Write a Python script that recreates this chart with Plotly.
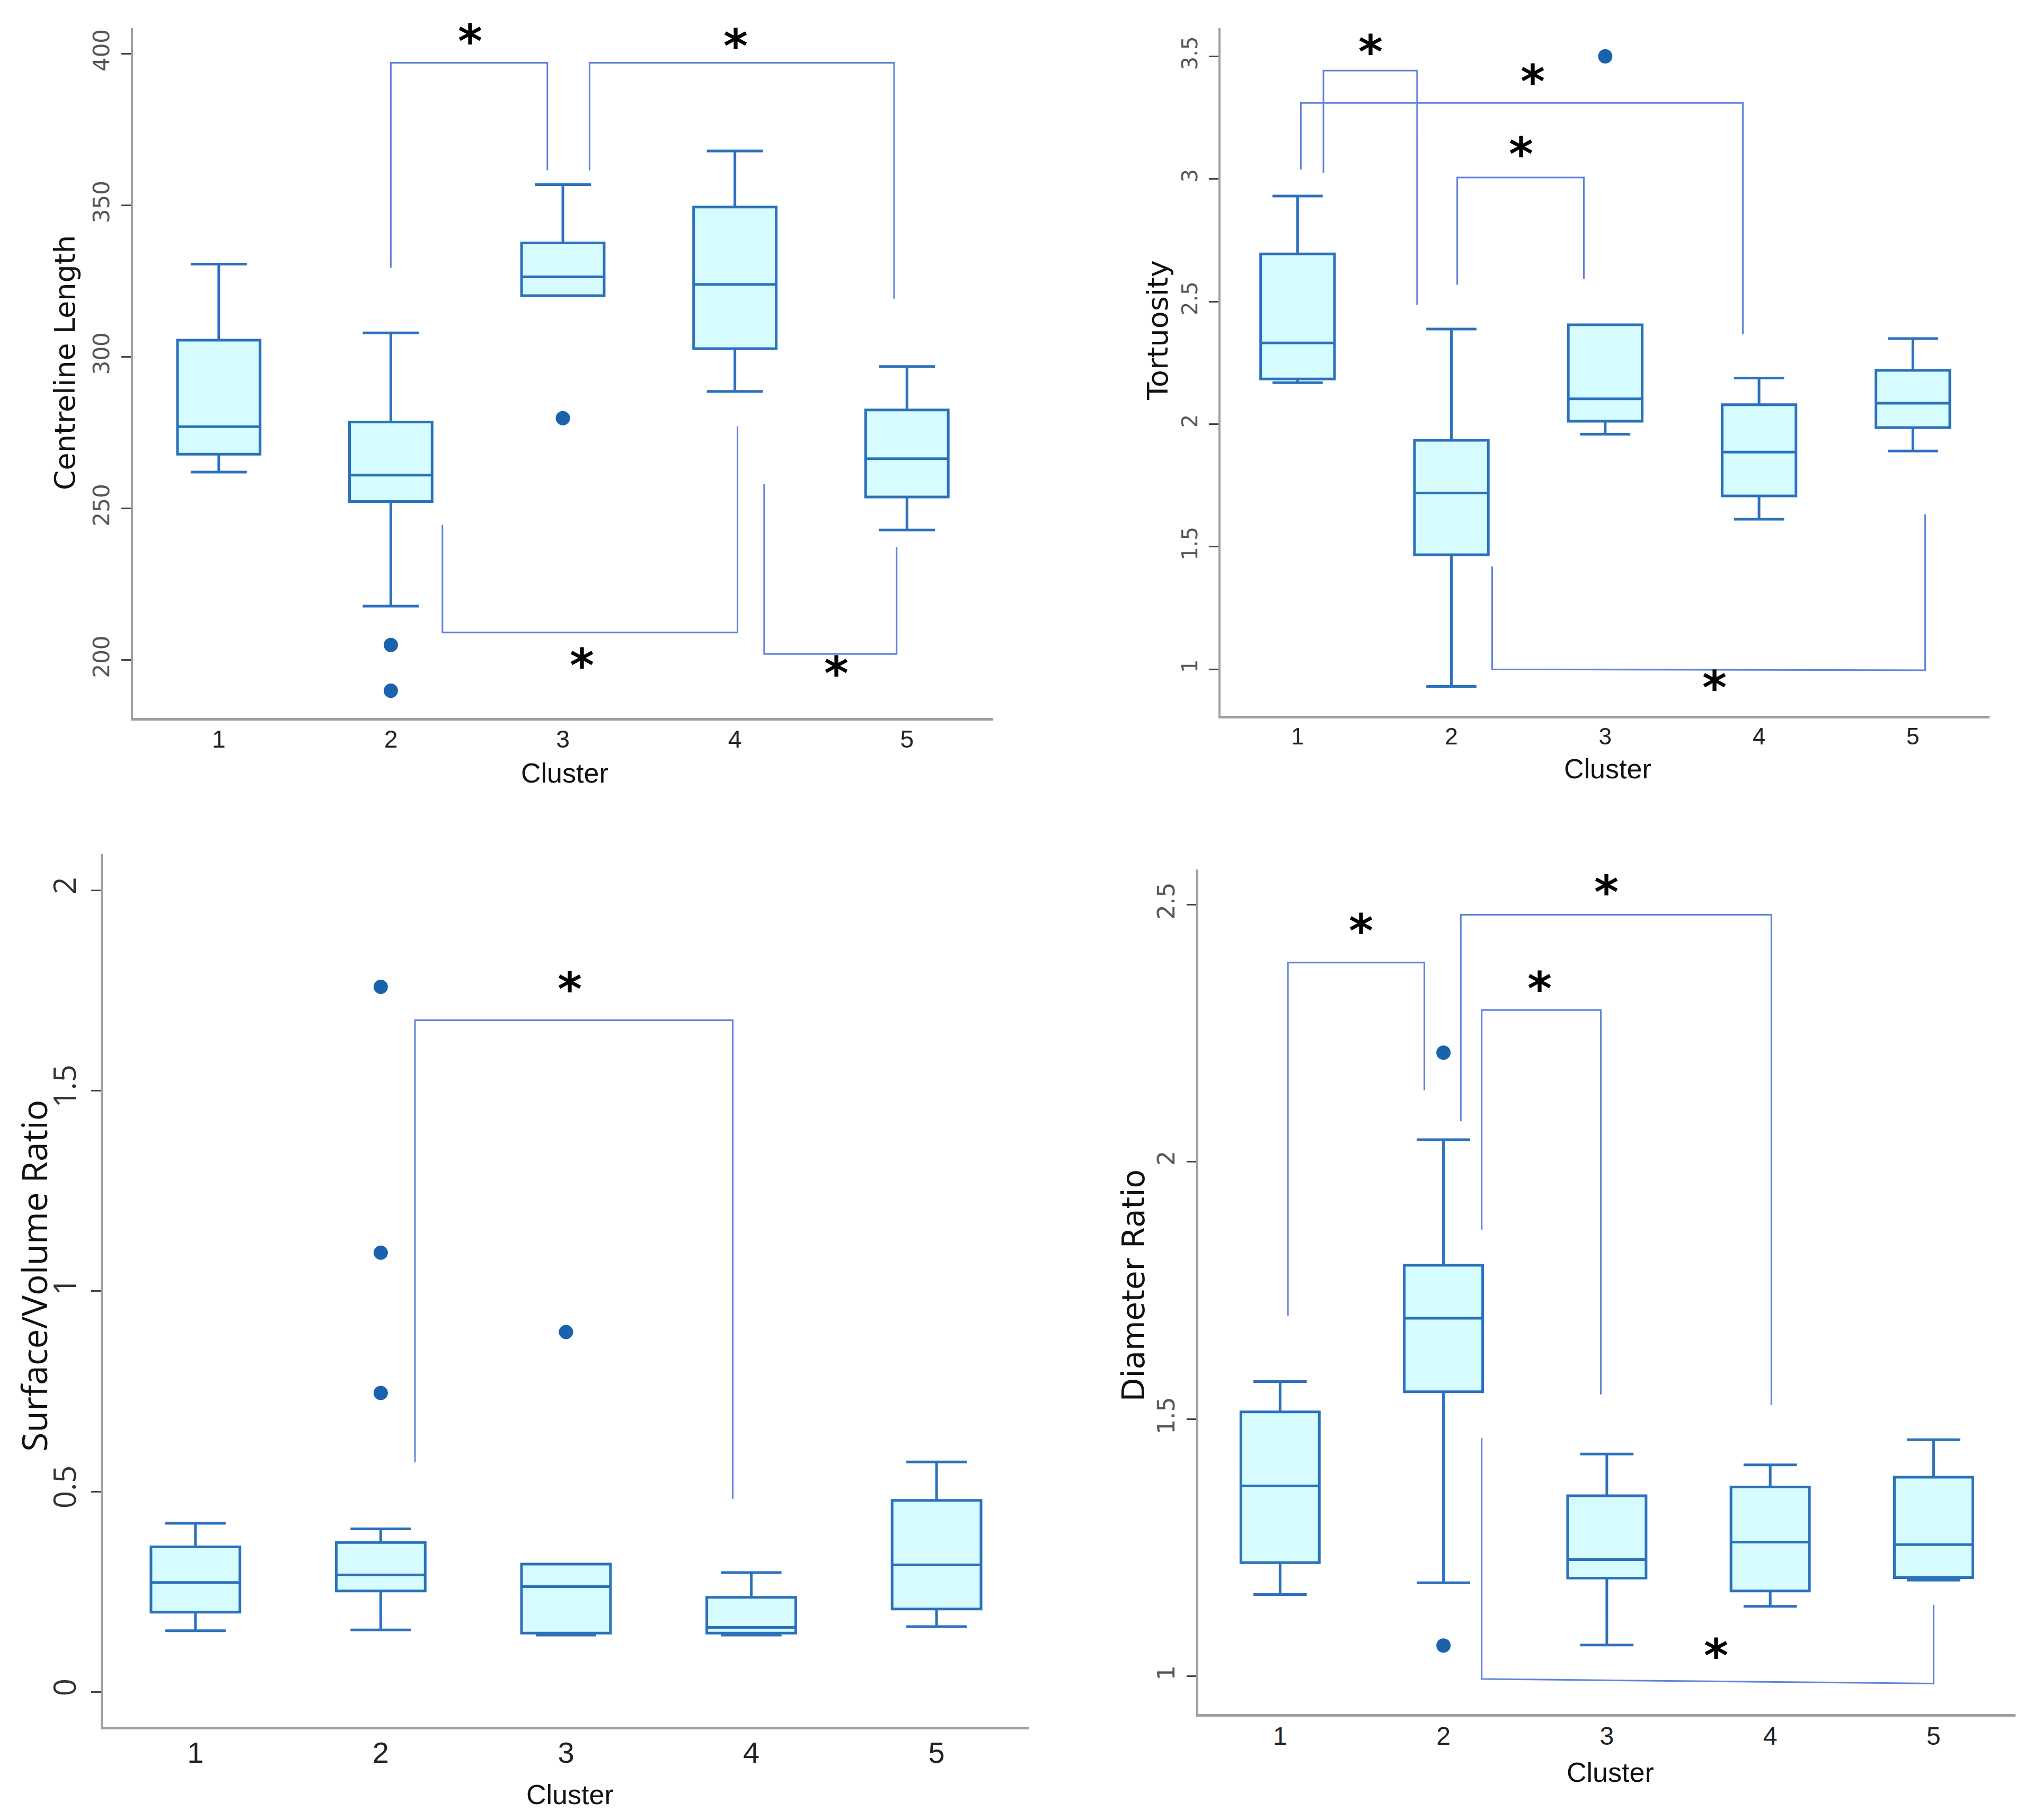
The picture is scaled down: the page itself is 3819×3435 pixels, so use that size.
import plotly.graph_objects as go

clusters = [1, 2, 3, 4, 5]
tick_text = ["1", "2", "3", "4", "5"]

# ---------- Panel 1: Centreline Length ----------
cl_low = [262.0, 217.8, 320.2, 288.6, 242.9]
cl_q1 = [267.9, 252.3, 320.2, 302.7, 253.8]
cl_med = [277.0, 261.0, 326.4, 323.9, 266.4]
cl_q3 = [305.5, 278.5, 337.6, 349.4, 282.5]
cl_up = [330.6, 307.9, 356.8, 367.9, 296.8]
cl_out_x = [2, 2, 3]
cl_out_y = [205.0, 189.9, 279.8]
cl_br_x0 = [2.0, 3.155, 2.30, 4.17]
cl_br_x1 = [2.91, 4.925, 4.015, 4.94]
cl_br_bar0 = [397.0, 397.0, 209.1, 202.0]
cl_br_bar1 = [397.0, 397.0, 209.1, 202.0]
cl_br_end0 = [329.4, 361.5, 244.6, 258.0]
cl_br_end1 = [361.5, 319.2, 277.1, 237.3]
cl_star_x = [2.46, 4.005, 3.11, 4.59]
cl_star_y = [404.2, 402.5, 198.3, 195.6]
cl_ticks = [200, 250, 300, 350, 400]

# ---------- Panel 2: Tortuosity ----------
to_low = [2.169, 0.930, 1.959, 1.612, 1.890]
to_q1 = [2.184, 1.467, 2.012, 1.707, 1.986]
to_med = [2.331, 1.719, 2.103, 1.886, 2.085]
to_q3 = [2.694, 1.934, 2.405, 2.079, 2.219]
to_up = [2.930, 2.388, 2.405, 2.188, 2.349]
to_out_x = [3]
to_out_y = [3.50]
to_br_x0 = [1.168, 1.021, 2.038, 2.265]
to_br_x1 = [1.777, 3.895, 2.861, 5.08]
to_br_bar0 = [3.442, 3.310, 3.006, 1.000]
to_br_bar1 = [3.442, 3.310, 3.006, 0.996]
to_br_end0 = [3.023, 3.039, 2.568, 1.419]
to_br_end1 = [2.486, 2.366, 2.593, 1.632]
to_star_x = [1.475, 2.529, 2.454, 3.71]
to_star_y = [3.519, 3.399, 3.101, 0.926]
to_ticks = [1, 1.5, 2, 2.5, 3, 3.5]

# ---------- Panel 3: Surface/Volume Ratio ----------
sv_low = [0.153, 0.155, 0.142, 0.142, 0.163]
sv_q1 = [0.199, 0.252, 0.147, 0.147, 0.207]
sv_med = [0.273, 0.292, 0.263, 0.161, 0.317]
sv_q3 = [0.362, 0.373, 0.319, 0.236, 0.478]
sv_up = [0.421, 0.407, 0.319, 0.298, 0.574]
sv_out_x = [2, 2, 2, 3]
sv_out_y = [1.759, 1.096, 0.746, 0.898]
sv_br_x0 = [2.185]
sv_br_x1 = [3.90]
sv_br_bar0 = [1.676]
sv_br_bar1 = [1.676]
sv_br_end0 = [0.573]
sv_br_end1 = [0.482]
sv_star_x = [3.02]
sv_star_y = [1.754]
sv_ticks = [0, 0.5, 1, 1.5, 2]

# ---------- Panel 4: Diameter Ratio ----------
dr_low = [1.159, 1.182, 1.061, 1.136, 1.187]
dr_q1 = [1.221, 1.553, 1.191, 1.166, 1.192]
dr_med = [1.370, 1.696, 1.227, 1.261, 1.256]
dr_q3 = [1.514, 1.799, 1.351, 1.368, 1.387]
dr_up = [1.573, 2.043, 1.432, 1.411, 1.460]
dr_out_x = [2, 2]
dr_out_y = [2.212, 1.060]
dr_br_x0 = [1.048, 2.106, 2.234, 2.234]
dr_br_x1 = [1.883, 4.007, 2.963, 5.0]
dr_br_bar0 = [2.387, 2.480, 2.295, 0.995]
dr_br_bar1 = [2.387, 2.480, 2.295, 0.986]
dr_br_end0 = [1.701, 2.079, 1.868, 1.463]
dr_br_end1 = [2.139, 1.527, 1.548, 1.139]
dr_star_x = [1.495, 2.996, 2.59, 3.67]
dr_star_y = [2.449, 2.524, 2.337, 1.041]
dr_ticks = [1, 1.5, 2, 2.5]

BOX_LINE = "#2b71bb"
BOX_FILL = "#d7fcff"
DOT = "#1a62ad"
BR_LINE = "#5f84dc"

panels = [
    dict(ax="1", low=cl_low, q1=cl_q1, med=cl_med, q3=cl_q3, up=cl_up,
         ox=cl_out_x, oy=cl_out_y, bx0=cl_br_x0, bx1=cl_br_x1, bb0=cl_br_bar0, bb1=cl_br_bar1,
         be0=cl_br_end0, be1=cl_br_end1, sx=cl_star_x, sy=cl_star_y, ticks=cl_ticks,
         xdom=[0.0635, 0.4885], ydom=[0.608, 0.987], yr=[181, 408.5],
         title="Centreline Length", tx=0.030, ty=0.803, tfont=("DejaVu Sans", 54),
         cx=0.277, cy=0.5752, cshift=8, xtick=46,
         tickfont=("DejaVu Sans", 42, "#555")),
    dict(ax="2", low=to_low, q1=to_q1, med=to_med, q3=to_q3, up=to_up,
         ox=to_out_x, oy=to_out_y, bx0=to_br_x0, bx1=to_br_x1, bb0=to_br_bar0, bb1=to_br_bar1,
         be0=to_br_end0, be1=to_br_end1, sx=to_star_x, sy=to_star_y, ticks=to_ticks,
         xdom=[0.601, 0.981], ydom=[0.609, 0.987], yr=[0.81, 3.616],
         title="Tortuosity", tx=0.5700, ty=0.821, tfont=("DejaVu Sans", 54),
         cx=0.7923, cy=0.5788, cshift=4, xtick=44,
         tickfont=("DejaVu Sans", 40, "#555")),
    dict(ax="3", low=sv_low, q1=sv_q1, med=sv_med, q3=sv_q3, up=sv_up,
         ox=sv_out_x, oy=sv_out_y, bx0=sv_br_x0, bx1=sv_br_x1, bb0=sv_br_bar0, bb1=sv_br_bar1,
         be0=sv_br_end0, be1=sv_br_end1, sx=sv_star_x, sy=sv_star_y, ticks=sv_ticks,
         xdom=[0.0487, 0.5064], ydom=[0.0535, 0.533], yr=[-0.087, 2.09],
         title="Surface/Volume Ratio", tx=0.0145, ty=0.3015, tfont=("Open Sans", 66),
         cx=0.2795, cy=0.0121, cshift=14, xtick=56,
         tickfont=("Open Sans", 58, "#333")),
    dict(ax="4", low=dr_low, q1=dr_q1, med=dr_med, q3=dr_q3, up=dr_up,
         ox=dr_out_x, oy=dr_out_y, bx0=dr_br_x0, bx1=dr_br_x1, bb0=dr_br_bar0, bb1=dr_br_bar1,
         be0=dr_br_end0, be1=dr_br_end1, sx=dr_star_x, sy=dr_star_y, ticks=dr_ticks,
         xdom=[0.590, 0.9936], ydom=[0.0606, 0.5246], yr=[0.927, 2.568],
         title="Diameter Ratio", tx=0.5580, ty=0.296, tfont=("DejaVu Sans", 58),
         cx=0.7936, cy=0.0257, cshift=10, xtick=48,
         tickfont=("DejaVu Sans", 44, "#555")),
]

NARROW = "Liberation Sans Narrow, Arial Narrow, Liberation Sans, sans-serif"

fig = go.Figure()
annotations = []
layout_axes = {}

for p in panels:
    n = p["ax"]
    xa = "x" if n == "1" else "x" + n
    ya = "y" if n == "1" else "y" + n

    fig.add_trace(go.Box(
        x=clusters, q1=p["q1"], median=p["med"], q3=p["q3"],
        lowerfence=p["low"], upperfence=p["up"],
        xaxis=xa, yaxis=ya, width=0.48, whiskerwidth=0.68,
        fillcolor=BOX_FILL, line=dict(color=BOX_LINE, width=5),
        boxpoints=False, showlegend=False, hoverinfo="skip",
    ))
    fig.add_trace(go.Scatter(
        x=p["ox"], y=p["oy"], mode="markers", xaxis=xa, yaxis=ya,
        marker=dict(color=DOT, size=27, line=dict(width=0)),
        showlegend=False, hoverinfo="skip",
    ))
    for i in range(len(p["bx0"])):
        fig.add_trace(go.Scatter(
            x=[p["bx0"][i], p["bx0"][i], p["bx1"][i], p["bx1"][i]],
            y=[p["be0"][i], p["bb0"][i], p["bb1"][i], p["be1"][i]],
            mode="lines", xaxis=xa, yaxis=ya,
            line=dict(color=BR_LINE, width=3),
            showlegend=False, hoverinfo="skip",
        ))
    for sx, sy in zip(p["sx"], p["sy"]):
        annotations.append(dict(
            x=sx, y=sy, xref=xa, yref=ya, text="*", showarrow=False,
            font=dict(family="DejaVu Sans", size=88, color="black", weight="bold"),
            xanchor="center", yanchor="middle", yshift=0,
        ))
    # y-axis title
    annotations.append(dict(
        x=p["tx"], y=p["ty"], xref="paper", yref="paper", text=p["title"],
        showarrow=False, textangle=-90,
        font=dict(family=p["tfont"][0], size=p["tfont"][1], color="#111"),
        xanchor="center", yanchor="middle",
    ))
    # x-axis title
    annotations.append(dict(
        x=p["cx"], y=p["cy"], xref="paper", yref="paper", text="Cluster",
        showarrow=False, font=dict(family=NARROW, size=52, color="#111"),
        xanchor="center", yanchor="middle", yshift=p["cshift"],
    ))

    xkey = "xaxis" if n == "1" else "xaxis" + n
    ykey = "yaxis" if n == "1" else "yaxis" + n
    layout_axes[xkey] = dict(
        domain=p["xdom"], anchor=ya, range=[0.5, 5.5],
        tickvals=clusters, ticktext=tick_text, ticks="",
        showline=True, linecolor="#a0a0a0", linewidth=5,
        showgrid=False, zeroline=False,
        tickfont=dict(family=NARROW, size=p["xtick"], color="#222"),
        ticklabelstandoff=-4,
    )
    layout_axes[ykey] = dict(
        domain=p["ydom"], anchor=xa, range=p["yr"],
        tickvals=p["ticks"], ticks="outside", ticklen=18, tickwidth=3,
        tickcolor="#444", tickangle=-90,
        showline=True, linecolor="#a0a0a0", linewidth=4,
        showgrid=False, zeroline=False,
        tickfont=dict(family=p["tickfont"][0], size=p["tickfont"][1], color=p["tickfont"][2]),
        ticklabelstandoff=6,
    )

fig.update_layout(
    width=3819, height=3435,
    margin=dict(l=0, r=0, t=0, b=0),
    paper_bgcolor="white", plot_bgcolor="white",
    annotations=annotations,
    showlegend=False,
    **layout_axes,
)

fig.write_html("out.html")
